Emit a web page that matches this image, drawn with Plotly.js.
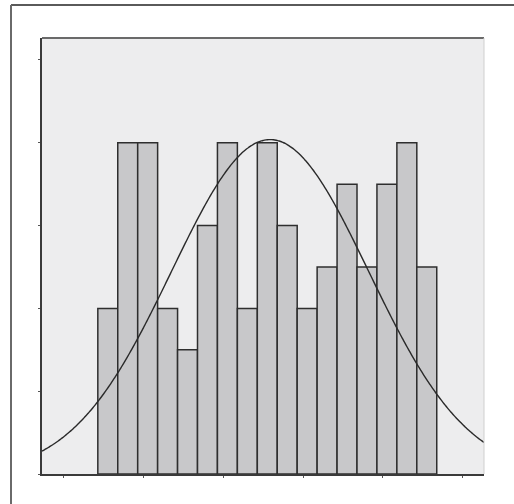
<!DOCTYPE html>
<html>
<head>
<meta charset="utf-8">
<script src="https://cdn.plot.ly/plotly-3.0.1.min.js"></script>
<style>
html,body{margin:0;padding:0;background:#fff;}
#chart{width:514px;height:504px;}
</style>
</head>
<body>
<div id="chart"></div>
<script>
// Histogram bins (centers) and counts
var binCenters = [1,2,3,4,5,6,7,8,9,10,11,12,13,14,15,16,17];
var counts = [4,8,8,4,3,6,8,4,8,6,4,5,7,5,7,8,5];
var xTickVals = [-1.2, 2.8, 6.8, 10.8, 14.8, 18.8];
var yTickVals = [0, 2, 4, 6, 8, 10];

// Fitted normal curve from the histogram's own mean and sd
var n = 0, s = 0, s2 = 0;
for (var i = 0; i < counts.length; i++) {
  n += counts[i];
  s += counts[i] * binCenters[i];
  s2 += counts[i] * binCenters[i] * binCenters[i];
}
var mean = s / n;
var sd = Math.sqrt(s2 / n - mean * mean);
var binWidth = 1;
var xMin = -2.3, xMax = 19.87;
var cx = [], cy = [];
for (var k = 0; k <= 300; k++) {
  var x = xMin + (xMax - xMin) * k / 300;
  cx.push(x);
  cy.push(n * binWidth / (sd * Math.sqrt(2 * Math.PI)) * Math.exp(-0.5 * Math.pow((x - mean) / sd, 2)));
}

var traces = [
  {
    type: 'bar',
    x: binCenters,
    y: counts,
    width: 1,
    marker: {color: '#c8c8ca', line: {color: '#2e2e2e', width: 1.5}},
    hoverinfo: 'x+y'
  },
  {
    type: 'scatter',
    mode: 'lines',
    x: cx,
    y: cy,
    line: {color: '#2a2a2a', width: 1.4, shape: 'spline'},
    hoverinfo: 'skip'
  }
];

var layout = {
  width: 514,
  height: 504,
  margin: {l: 42, r: 30, t: 38, b: 30},
  paper_bgcolor: '#ffffff',
  plot_bgcolor: '#ededee',
  showlegend: false,
  bargap: 0,
  xaxis: {
    range: [xMin, xMax],
    tickmode: 'array',
    tickvals: xTickVals,
    showticklabels: false,
    ticks: 'outside',
    ticklen: 2,
    tickwidth: 1,
    tickcolor: '#555',
    showgrid: false,
    zeroline: false,
    showline: true,
    linecolor: '#3a3a3a',
    linewidth: 2
  },
  yaxis: {
    range: [0, 10.53],
    tickmode: 'array',
    tickvals: yTickVals,
    showticklabels: false,
    ticks: 'outside',
    ticklen: 2,
    tickwidth: 1,
    tickcolor: '#555',
    showgrid: false,
    zeroline: false,
    showline: true,
    linecolor: '#3a3a3a',
    linewidth: 2
  },
  shapes: [
    {type: 'line', xref: 'paper', yref: 'paper', x0: 0, x1: 1, y0: 1, y1: 1,
     line: {color: '#6a6a6a', width: 2}},
    {type: 'line', xref: 'paper', yref: 'paper', x0: 1, x1: 1, y0: 0, y1: 1,
     line: {color: '#cfcfcf', width: 1}},
    {type: 'line', xref: 'paper', yref: 'paper',
     x0: -31 / 442, x1: 1 + 30 / 442, y0: 1 + 33 / 436, y1: 1 + 33 / 436,
     line: {color: '#5a5a5a', width: 2}},
    {type: 'line', xref: 'paper', yref: 'paper',
     x0: -31 / 442, x1: -31 / 442, y0: 1 + 33 / 436, y1: -30 / 436,
     line: {color: '#6a6a6a', width: 2}}
  ]
};

Plotly.newPlot('chart', traces, layout, {displayModeBar: false, staticPlot: true});
</script>
</body>
</html>
